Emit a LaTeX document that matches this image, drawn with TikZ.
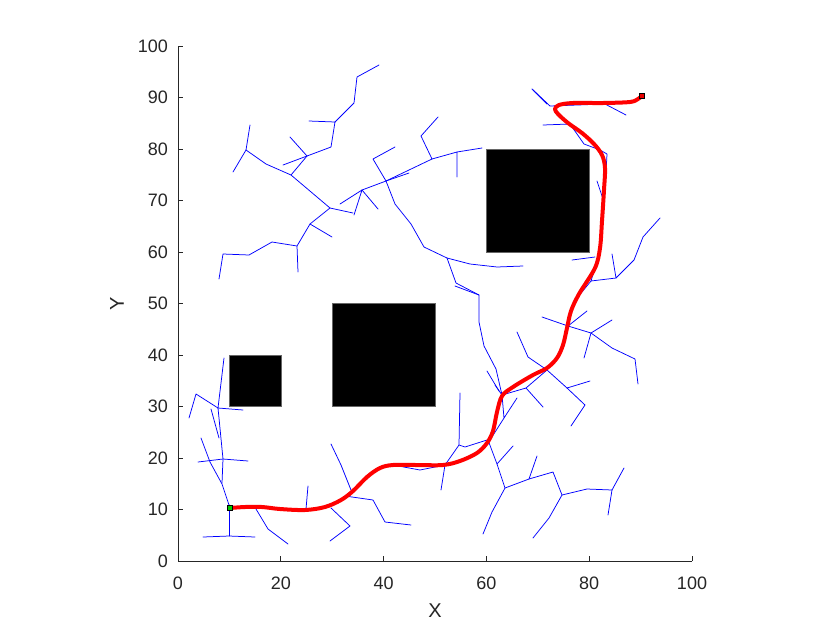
\documentclass[tikz,border=0pt]{standalone}
\usepackage{fontspec}
\setmainfont{Liberation Sans}
\begin{document}
\begin{tikzpicture}[x=1pt,y=-1pt,
  tree/.style={draw={rgb,255:red,0;green,0;blue,255}, line width=0.75pt, line join=round, line cap=round},
  pathline/.style={draw={rgb,255:red,255;green,0;blue,0}, line width=4pt, line cap=round, line join=round},
  axisline/.style={draw=black!85, line width=0.7pt},
  ticklab/.style={text=black!85, inner sep=0pt, font=\fontsize{18}{21}\selectfont},
  axlab/.style={text=black!85, inner sep=0pt, font=\fontsize{20}{24}\selectfont},
  obst/.style={fill=black, draw=black!60, line width=0.5pt},
  marker/.style={draw=black, line width=0.5pt, minimum size=5pt, inner sep=0pt}]
\useasboundingbox[fill=white] (0,0) rectangle (840,630);

% obstacles
\path[obst] (229.4,355) rectangle (280.8,406.5);
\path[obst] (332.2,303.5) rectangle (435,406.5);
\path[obst] (486.4,149) rectangle (589.2,252);

% RRT tree
\draw[tree] (250,125)--(246,150)--(233,172);
\draw[tree] (246,150)--(266,164)--(291,175)--(307,156)--(290,137);
\draw[tree] (307,156)--(283,165);
\draw[tree] (307,156)--(331,147)--(335,122)--(309,121);
\draw[tree] (335,122)--(354,103)--(357,77)--(379,65);
\draw[tree] (291,175)--(330,208)--(310,224)--(297,246)--(298,272);
\draw[tree] (330,208)--(353,213);
\draw[tree] (310,224)--(332,237);
\draw[tree] (297,246)--(272,242)--(249,255)--(223,254)--(219,279);
\draw[tree] (340,204)--(362,190)--(354,215);
\draw[tree] (362,190)--(378,209);
\draw[tree] (362,190)--(386,181)--(409,173);
\draw[tree] (386,181)--(432,159)--(421,136)--(438,117);
\draw[tree] (432,159)--(457,152)--(457,177);
\draw[tree] (457,152)--(482,148);
\draw[tree] (386,181)--(373,159)--(395,147);
\draw[tree] (386,181)--(395,204)--(411,224)--(424,247)--(447,258)--(470,264)--(497,267)--(523,266);
\draw[tree] (447,258)--(456,283)--(479,295)--(479,322)--(484,346)--(496,369)--(502,395);
\draw[tree] (455,286)--(479,295);
\draw[tree] (487,371)--(499,391);
\draw[tree] (517,332)--(528,357)--(547,370)--(567,388)--(590,381);
\draw[tree] (567,388)--(585,405)--(571,426);
\draw[tree] (547,370)--(526,388);
\draw[tree] (532,89)--(550,106)--(605,104)--(626,115);
\draw[tree] (533,90)--(547,104);
\draw[tree] (543,125)--(570,124)--(584,144)--(600,150)--(607,154)--(606,173);
\draw[tree] (597,181)--(603,199);
\draw[tree] (660,218)--(643,237)--(634,260)--(616,278)--(612,254);
\draw[tree] (616,278)--(591,281)--(598,258);
\draw[tree] (591,281)--(577,298);
\draw[tree] (572,260)--(595,257);
\draw[tree] (542,317)--(568,326)--(587,311);
\draw[tree] (568,326)--(591,333)--(612,320);
\draw[tree] (591,333)--(584,358);
\draw[tree] (591,333)--(612,348)--(635,359)--(638,384);
\draw[tree] (495,385)--(502,395)--(526,388)--(543,407);
\draw[tree] (502,395)--(504,418)--(517,398);
\draw[tree] (504,418)--(490,440);
\draw[tree] (460,393)--(459,445)--(445,465)--(441,490);
\draw[tree] (459,445)--(465,447)--(487,440);
\draw[tree] (445,465)--(420,470)--(393,465);
\draw[tree] (488,440)--(497,464)--(513,446);
\draw[tree] (497,464)--(505,488)--(492,512)--(483,534);
\draw[tree] (505,488)--(529,479)--(537,456);
\draw[tree] (529,479)--(553,472)--(562,495)--(549,518)--(533,538);
\draw[tree] (562,495)--(587,489)--(612,490)--(624,468);
\draw[tree] (612,490)--(608,515);
\draw[tree] (345,496)--(373,500)--(385,522)--(411,525);
\draw[tree] (331,508)--(350,526)--(330,541);
\draw[tree] (224,358)--(218,408);
\draw[tree] (218,408)--(196,394)--(189,418);
\draw[tree] (218,408)--(243,410);
\draw[tree] (218,408)--(223,459)--(222,483);
\draw[tree] (211,409)--(219,438);
\draw[tree] (201,438)--(210,462)--(222,484)--(229,505);
\draw[tree] (198,462)--(223,459)--(248,461);
\draw[tree] (229,505)--(229,536);
\draw[tree] (203,537)--(229,536)--(255,537);
\draw[tree] (256,509)--(268,529)--(288,544);
\draw[tree] (308,486)--(306,509);
\draw[tree] (331,444)--(341,465)--(351,490);

% path
\draw[pathline] plot[smooth, tension=0.55] coordinates {
 (230,508) (245,507) (262,507) (280,509) (305,510) (325,507) (341,500) (353,491)
 (367,477) (380,468) (393,465) (417,465) (443,465) (460,461) (477,453) (487,443)
 (493,431) (497,412) (502,396) (513,387) (533,375) (547,368) (557,358) (563,345)
 (567,328) (571,311) (579,294) (595,268) (600,248) (602,221) (604,190) (605,168)
 (602,155) (594,144) (582,133) (568,123) (558,114) (555,109) (559,105) (573,103) (603,103)
 (630,102) (638,99) (642,96)};

% markers
\node[marker, fill={rgb,255:red,0;green,200;blue,0}] (start) at (230,508) {};
\node[marker, fill={rgb,255:red,230;green,0;blue,0}] (goal) at (642,96) {};

% axes
\draw[axisline] (178,46) -- (178,561) -- (692,561);
\foreach \i in {0,...,10}{
  \pgfmathsetmacro{\yy}{561-51.5*\i}
  \pgfmathtruncatemacro{\lab}{10*\i}
  \draw[axisline] (178,\yy) -- (183,\yy);
  \node[ticklab, anchor=east] (yl\i) at (168,\yy) {\lab};
}
\foreach \i in {0,...,5}{
  \pgfmathsetmacro{\xx}{178+102.8*\i}
  \pgfmathtruncatemacro{\lab}{20*\i}
  \draw[axisline] (\xx,561) -- (\xx,556);
  \node[ticklab, anchor=north] (xl\i) at (\xx,577) {\lab};
}
\node[axlab] (xlabel) at (435,611) {X};
\node[axlab, rotate=90] (ylabel) at (117,304) {Y};
\end{tikzpicture}
\end{document}
